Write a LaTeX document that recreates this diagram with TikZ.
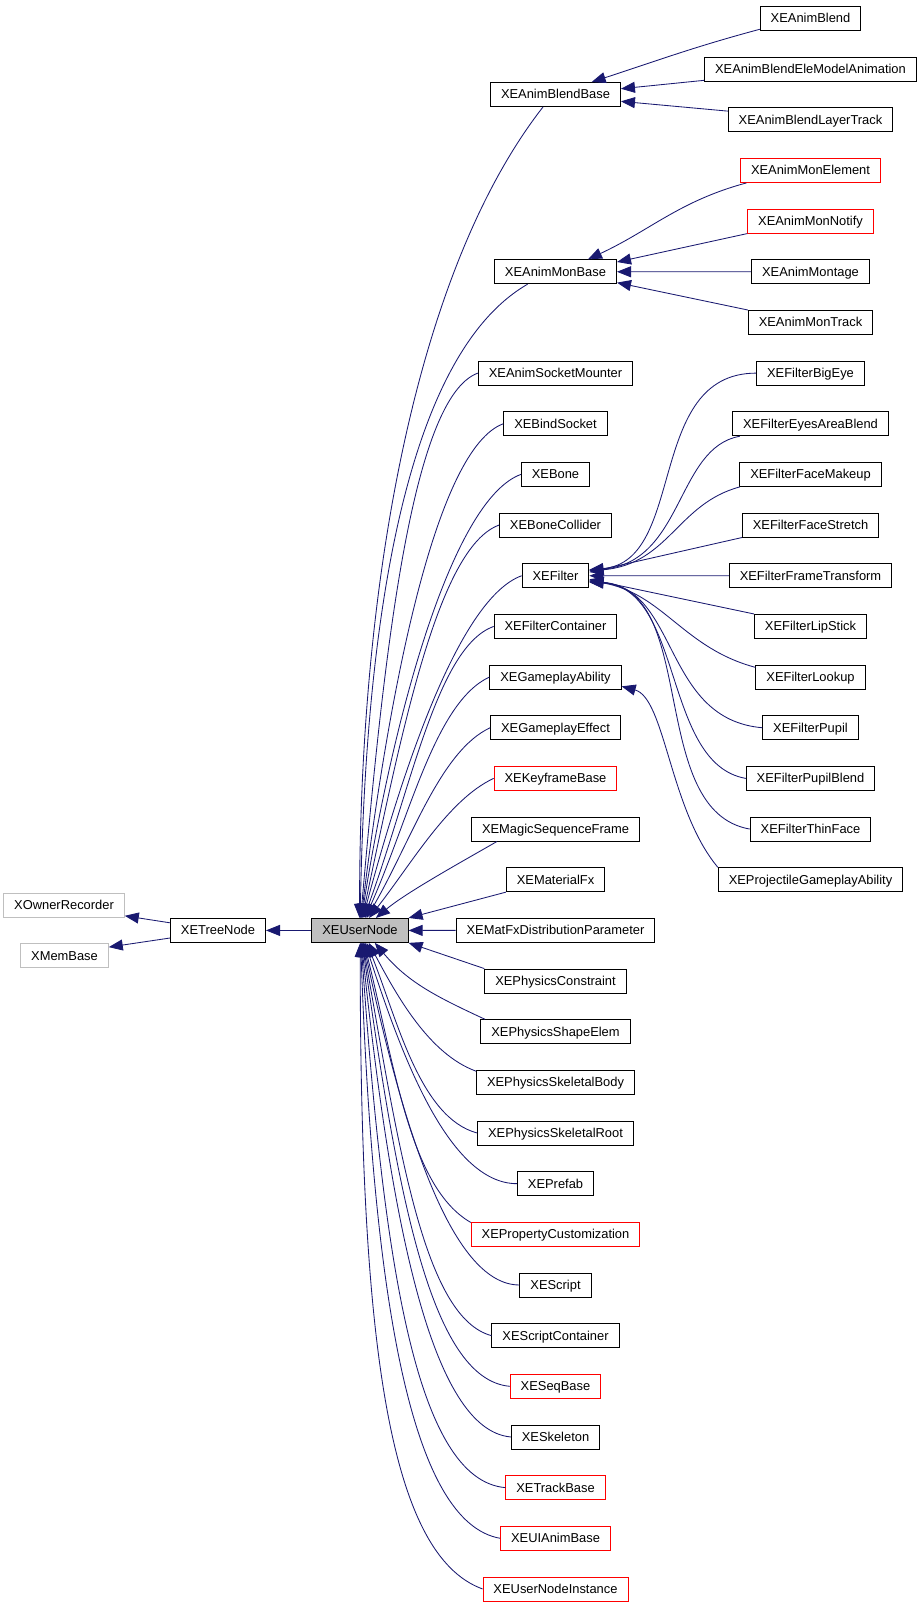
\documentclass[tikz,border=0pt]{standalone}
\usepackage{fontspec}
\setmainfont{Liberation Sans}
\usetikzlibrary{arrows.meta, positioning}
\definecolor{edgeblue}{HTML}{191970}
\definecolor{docred}{HTML}{FF0000}
\definecolor{docgray}{HTML}{BFBFBF}

\begin{document}
\begin{tikzpicture}[x=1pt,y=1pt,node distance=50.66pt,on grid,
    cls/.style={draw=black,line width=0.9pt,fill=white,inner xsep=10.5pt,inner ysep=0pt,
      minimum height=24pt,text height=10pt,text depth=1pt,font=\fontsize{12.9}{14}\selectfont},
    redcls/.style={cls,draw=docred},
    extcls/.style={cls,draw=docgray},
    inh/.style={color=edgeblue,line width=0.85pt,-{Triangle[length=14pt,width=11pt]}}]
  \useasboundingbox (0,0) rectangle (923,-1608);

  % base classes
  \node[cls,fill=docgray] (un) at (360,-930.4) {XEUserNode};
  \node[cls] (tn) [left=142pt of un] {XETreeNode};
  \node[extcls] (xor) [above left=25.3pt and 154pt of tn] {XOwnerRecorder};
  \node[extcls] (mb) [below left=25.3pt and 153.5pt of tn] {XMemBase};

  % direct subclasses
  \node[cls] (asm) at (555.5,-373.1) {XEAnimSocketMounter};
  \node[cls] (amb) [above=101.32pt of asm] {XEAnimMonBase};
  \node[cls] (abb) [above=177.31pt of amb] {XEAnimBlendBase};
  \node[cls] (bs) [below=of asm] {XEBindSocket};
  \node[cls] (bone) [below=of bs] {XEBone};
  \node[cls] (bc) [below=of bone] {XEBoneCollider};
  \node[cls] (flt) [below=of bc] {XEFilter};
  \node[cls] (fc) [below=of flt] {XEFilterContainer};
  \node[cls] (gab) [below=of fc] {XEGameplayAbility};
  \node[cls] (gef) [below=of gab] {XEGameplayEffect};
  \node[redcls] (kfb) [below=of gef] {XEKeyframeBase};
  \node[cls] (msf) [below=of kfb] {XEMagicSequenceFrame};
  \node[cls] (mfx) [below=of msf] {XEMaterialFx};
  \node[cls] (mfd) [below=of mfx] {XEMatFxDistributionParameter};
  \node[cls] (pc) [below=of mfd] {XEPhysicsConstraint};
  \node[cls] (pse) [below=of pc] {XEPhysicsShapeElem};
  \node[cls] (psb) [below=of pse] {XEPhysicsSkeletalBody};
  \node[cls] (psr) [below=of psb] {XEPhysicsSkeletalRoot};
  \node[cls] (pfb) [below=of psr] {XEPrefab};
  \node[redcls] (pcu) [below=of pfb] {XEPropertyCustomization};
  \node[cls] (scr) [below=of pcu] {XEScript};
  \node[cls] (scc) [below=of scr] {XEScriptContainer};
  \node[redcls] (seq) [below=of scc] {XESeqBase};
  \node[cls] (skl) [below=of seq] {XESkeleton};
  \node[redcls] (trk) [below=of skl] {XETrackBase};
  \node[redcls] (uia) [below=of trk] {XEUIAnimBase};
  \node[redcls] (uni) [below=of uia] {XEUserNodeInstance};

  % second level
  \node[cls] (ab) at (810.5,-18.5) {XEAnimBlend};
  \node[cls] (abem) [below=of ab] {XEAnimBlendEleModelAnimation};
  \node[cls] (ablt) [below=of abem] {XEAnimBlendLayerTrack};
  \node[redcls] (ame) [below=of ablt] {XEAnimMonElement};
  \node[redcls] (amn) [below=of ame] {XEAnimMonNotify};
  \node[cls] (amt) [below=of amn] {XEAnimMontage};
  \node[cls] (amtr) [below=of amt] {XEAnimMonTrack};
  \node[cls] (fbe) [below=of amtr] {XEFilterBigEye};
  \node[cls] (fea) [below=of fbe] {XEFilterEyesAreaBlend};
  \node[cls] (ffm) [below=of fea] {XEFilterFaceMakeup};
  \node[cls] (ffs) [below=of ffm] {XEFilterFaceStretch};
  \node[cls] (fft) [below=of ffs] {XEFilterFrameTransform};
  \node[cls] (fls) [below=of fft] {XEFilterLipStick};
  \node[cls] (flu) [below=of fls] {XEFilterLookup};
  \node[cls] (fpu) [below=of flu] {XEFilterPupil};
  \node[cls] (fpb) [below=of fpu] {XEFilterPupilBlend};
  \node[cls] (ftf) [below=of fpb] {XEFilterThinFace};
  \node[cls] (pga) [below=of ftf] {XEProjectileGameplayAbility};

  \path[inh]
    (tn.171) edge (xor.-10)
    (tn.189) edge (mb.11)
    (un.west) edge (tn.east);

  % into XEUserNode from above
  \path[inh]
    (abb.-135) edge[out=232,in=90,out distance=200pt,in distance=350pt] (un.92)
    (amb.-156) edge[out=210,in=89,out distance=140pt,in distance=300pt] (un.89)
    (asm.west) edge[out=200,in=85,out distance=70pt,in distance=270pt] (un.87)
    (bs.west) edge[out=200,in=83,out distance=70pt,in distance=240pt] (un.85)
    (bone.west) edge[out=200,in=81,out distance=70pt,in distance=220pt] (un.83)
    (bc.west) edge[out=200,in=78,out distance=65pt,in distance=190pt] (un.80)
    (flt.west) edge[out=200,in=75,out distance=65pt,in distance=160pt] (un.77)
    (fc.west) edge[out=200,in=70,out distance=60pt,in distance=140pt] (un.73)
    (gab.west) edge[out=205,in=66,out distance=60pt,in distance=110pt] (un.68)
    (gef.west) edge[out=205,in=60,out distance=55pt,in distance=90pt] (un.62)
    (kfb.west) edge[out=205,in=52,out distance=50pt,in distance=70pt] (un.54)
    (msf.192) edge[out=210,in=40,out distance=40pt,in distance=40pt] (un.38)
    (mfx.south west) edge (un.north east)
    (mfd.west) edge (un.east)
    (pc.north west) edge (un.south east);

  % into XEUserNode from below
  \path[inh]
    (pse.170) edge[out=155,in=-50] (un.-40)
    (psb.172) edge[out=160,in=-62,out distance=50pt,in distance=60pt] (un.-55)
    (psr.west) edge[out=165,in=-68,out distance=60pt,in distance=80pt] (un.-62)
    (pfb.west) edge[out=180,in=-72,out distance=70pt,in distance=110pt] (un.-68)
    (pcu.172) edge[out=150,in=-76,out distance=70pt,in distance=130pt] (un.-72)
    (scr.west) edge[out=180,in=-78,out distance=70pt,in distance=180pt] (un.-75)
    (scc.west) edge[out=165,in=-80,out distance=70pt,in distance=210pt] (un.-78)
    (seq.west) edge[out=175,in=-82,out distance=80pt,in distance=250pt] (un.-80)
    (skl.west) edge[out=175,in=-84,out distance=80pt,in distance=280pt] (un.-83)
    (trk.west) edge[out=175,in=-86,out distance=90pt,in distance=320pt] (un.-85)
    (uia.west) edge[out=170,in=-88,out distance=90pt,in distance=360pt] (un.-87)
    (uni.west) edge[out=160,in=-90,out distance=100pt,in distance=400pt] (un.-89);

  % second level edges
  \path[inh]
    (ab.192) edge[out=195,in=18] (abb.19)
    (abem.186) edge (abb.5)
    (ablt.174) edge (abb.-6)
    (ame.191) edge[out=195,in=25] (amb.21)
    (amn.south west) edge (amb.9)
    (amt.west) edge (amb.east)
    (amtr.north west) edge (amb.-10)
    (fbe.west) edge[out=180,in=5,out distance=111pt,in distance=98pt] (flt.10)
    (fea.190) edge[out=190,in=5,out distance=65pt,in distance=95pt] (flt.9)
    (ffm.190) edge[out=195,in=5,out distance=65pt,in distance=80pt] (flt.8)
    (ffs.south west) edge (flt.6)
    (fft.west) edge (flt.east)
    (fls.north west) edge (flt.-6)
    (flu.170) edge[out=165,in=-10,out distance=75pt,in distance=75pt] (flt.-8)
    (fpu.west) edge[out=175,in=-5,out distance=100pt,in distance=90pt] (flt.-9)
    (fpb.west) edge[out=170,in=-4,out distance=85pt,in distance=95pt] (flt.-10)
    (ftf.west) edge[out=170,in=-3,out distance=105pt,in distance=110pt] (flt.-11)
    (pga.north west) edge[out=130,in=-15,out distance=75pt,in distance=45pt] (gab.-8);
\end{tikzpicture}
\end{document}
